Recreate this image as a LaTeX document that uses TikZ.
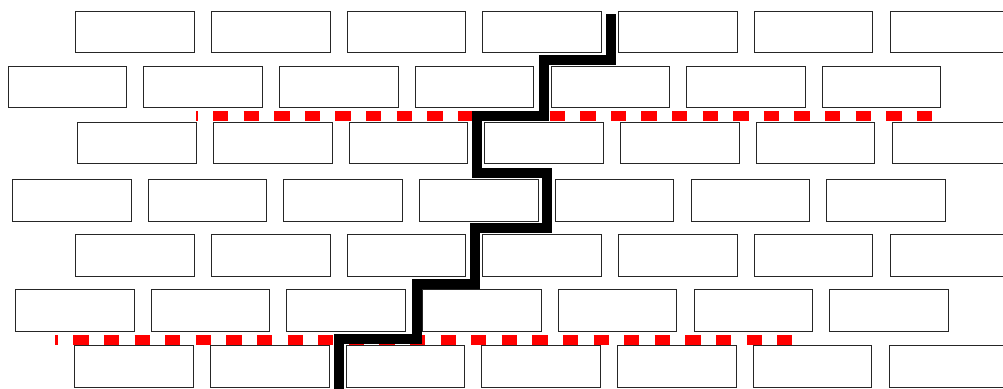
\documentclass[tikz,border=0pt]{standalone}
\tikzset{
  brick/.style={draw=black!85, line width=0.8pt, minimum width=118.5pt, minimum height=41.5pt, inner sep=0pt, anchor=north west},
  reddash/.style={draw=red, line width=10pt, dash pattern=on 15.3pt off 15.3pt},
  crack/.style={draw=black, line width=9.7pt, line join=miter}
}
\begin{document}
\begin{tikzpicture}[x=1pt,y=-1pt]
\useasboundingbox (0,0) rectangle (1003,388);
\clip (0,0) rectangle (1003,388);
\foreach \r/\ty/\lx in {1/10.7/75.3, 2/65.7/7.7, 3/121.7/77.3, 4/179/12, 5/234/75.3, 6/289.3/15, 7/345.3/74.3}
  \foreach \c in {0,...,6}
    \node[brick] (b\r\c) at ({\lx+\c*135.7},\ty) {};
\draw[reddash, dash phase=13.6pt] (196,116) -- (932.3,116);
\draw[reddash, dash phase=12.3pt] (55,339.5) -- (792.3,339.5);
\draw[crack] (611,14) -- (611,60) -- (544,60) -- (544,116) -- (477,116) -- (477,173) -- (547,173) -- (547,228) -- (475,228) -- (475,284) -- (417,284) -- (417,339) -- (339,339) -- (339,392);
\end{tikzpicture}
\end{document}
